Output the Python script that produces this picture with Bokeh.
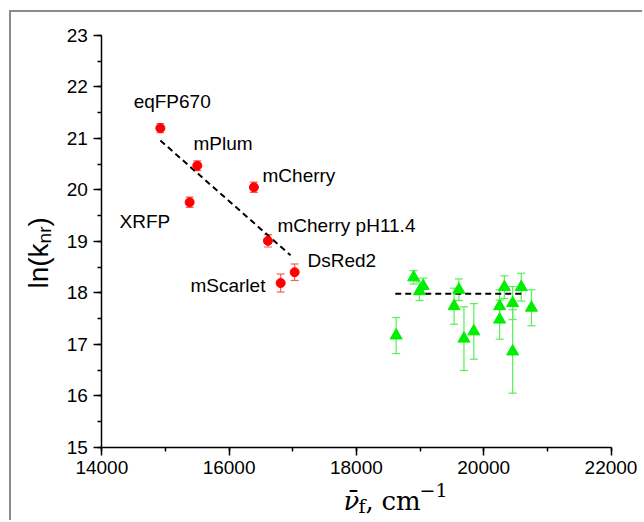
import math
from bokeh.plotting import figure
from bokeh.models import ColumnDataSource, Whisker, Label, Range1d, SingleIntervalTicker, TeeHead
from bokeh.core.properties import value
from bokeh.embed import file_html
from bokeh.resources import INLINE

# ---- data ----
red_names = ["eqFP670", "mPlum", "mCherry", "XRFP", "mCherry pH11.4", "DsRed2", "mScarlet"]
red_x = [14920, 15500, 16390, 15380, 16610, 17030, 16810]
red_y = [21.20, 20.47, 20.05, 19.76, 19.01, 18.40, 18.19]
red_err = [0.09, 0.095, 0.10, 0.10, 0.12, 0.16, 0.175]
label_x = [14500, 15441, 16525, 14278, 16760, 17231, 15393]
label_y = [21.72, 20.90, 20.27, 19.39, 19.30, 18.62, 18.14]

red_fit_x = [14920, 16965]
red_fit_y = [20.96, 18.73]

green_x = [18625, 18900, 19050, 18990, 19610, 19535, 19690, 19845, 20250, 20250,
           20325, 20455, 20455, 20590, 20750]
green_y = [17.17, 18.30, 18.13, 18.03, 18.06, 17.74, 17.11, 17.25, 17.74, 17.48,
           18.11, 17.80, 16.86, 18.11, 17.71]
green_err = [0.35, 0.13, 0.155, 0.18, 0.21, 0.35, 0.62, 0.54, 0.32, 0.38,
             0.22, 0.32, 0.81, 0.27, 0.35]
green_fit_x = [18610, 20655]
green_fit_y = [17.98, 17.98]

x_axis_bounds = (14000, 22000)
y_axis_bounds = (15, 23)
x_ticks_interval = 2000
y_ticks_interval = 1

# ---- geometry (page pixels) ----
CANVAS_LEFT, CANVAS_TOP = 11, 12
W, H = 644 - CANVAS_LEFT, 522 - CANVAS_TOP
AX_LEFT_PX, AX_RIGHT_PX = 101.3, 610.5   # x of 14000 / 22000
AX_TOP_PX, AX_BOT_PX = 35.0, 446.7       # y of 23 / 15
PX_X = (x_axis_bounds[1] - x_axis_bounds[0]) / (AX_RIGHT_PX - AX_LEFT_PX)
PX_Y = (y_axis_bounds[1] - y_axis_bounds[0]) / (AX_BOT_PX - AX_TOP_PX)
x0 = x_axis_bounds[0] - (AX_LEFT_PX - CANVAS_LEFT) * PX_X
x1 = x_axis_bounds[0] + (644 - AX_LEFT_PX) * PX_X
y1 = y_axis_bounds[1] + (AX_TOP_PX - CANVAS_TOP) * PX_Y
y0 = y_axis_bounds[1] - (522 - AX_TOP_PX) * PX_Y


def dx(px):
    return x_axis_bounds[0] + (px - AX_LEFT_PX) * PX_X


def dy(py):
    return y_axis_bounds[1] - (py - AX_TOP_PX) * PX_Y


# ---- figure ----
p = figure(width=W, height=H, output_backend="svg", toolbar_location=None,
           x_range=Range1d(x0, x1), y_range=Range1d(y0, y1),
           min_border=0, min_border_left=0, min_border_right=0,
           min_border_top=0, min_border_bottom=0)
p.styles = {"border-left": "2px solid #8c8c8c", "border-top": "2px solid #8c8c8c",
            "margin-left": f"{CANVAS_LEFT - 2}px", "margin-top": f"{CANVAS_TOP - 2}px"}
p.outline_line_color = None
p.xgrid.visible = False
p.ygrid.visible = False

xa, ya = p.xaxis[0], p.yaxis[0]
xa.fixed_location = y_axis_bounds[0]
xa.bounds = x_axis_bounds
ya.fixed_location = x_axis_bounds[0]
ya.bounds = y_axis_bounds
for ax, tk in ((xa, SingleIntervalTicker(interval=x_ticks_interval, num_minor_ticks=2)),
               (ya, SingleIntervalTicker(interval=y_ticks_interval, num_minor_ticks=2))):
    ax.ticker = tk
    ax.axis_line_width = 1.5
    ax.axis_line_color = "black"
    ax.major_tick_line_width = 1.5
    ax.minor_tick_line_width = 1.5
    ax.major_tick_in = 0
    ax.major_tick_out = 8
    ax.minor_tick_in = 0
    ax.minor_tick_out = 4
    ax.major_label_text_font = "Liberation Sans"
    ax.major_label_text_font_size = "19px"
    ax.major_label_text_color = "black"
    ax.major_label_standoff = 6
    ax.axis_label = None

# fit lines
p.line(red_fit_x, red_fit_y, line_color="black", line_width=2, line_dash="6 4")
p.line(green_fit_x, green_fit_y, line_color="black", line_width=2, line_dash="6 4")

# red points
rsrc = ColumnDataSource(dict(x=red_x, y=red_y,
                             lo=[a - b for a, b in zip(red_y, red_err)],
                             hi=[a + b for a, b in zip(red_y, red_err)]))
p.add_layout(Whisker(source=rsrc, base="x", upper="hi", lower="lo",
                     line_color="#ff5a5a", line_width=1.2,
                     upper_head=TeeHead(size=8, line_color="#ff5a5a", line_width=1.2),
                     lower_head=TeeHead(size=8, line_color="#ff5a5a", line_width=1.2)))
p.scatter("x", "y", source=rsrc, marker="circle", size=9, fill_color="#ff0000", line_color="#ff0000")

# green points
gsrc = ColumnDataSource(dict(x=green_x, y=green_y,
                             lo=[a - b for a, b in zip(green_y, green_err)],
                             hi=[a + b for a, b in zip(green_y, green_err)]))
p.add_layout(Whisker(source=gsrc, base="x", upper="hi", lower="lo",
                     line_color="#55f055", line_width=1.2,
                     upper_head=TeeHead(size=8, line_color="#55f055", line_width=1.2),
                     lower_head=TeeHead(size=8, line_color="#55f055", line_width=1.2)))
p.scatter("x", "y", source=gsrc, marker="triangle", size=12, fill_color="#00ee00", line_color="#00ee00")

# point labels
p.text(x=label_x, y=label_y, text=red_names, text_font=value("Liberation Sans"),
       text_font_size="19px", text_color="black", text_align="left", text_baseline="alphabetic")

# ---- axis titles built from pieces ----
# y title: ln(k_nr), rotated
fs_main, fs_sub = 28, 19
w1 = 1.611 * fs_main
w2 = 0.889 * fs_sub
for txt, off_y, off_x, fs in (("ln(k", 0, 0, fs_main),
                              ("nr", w1, 6, fs_sub),
                              (")", w1 + w2, 0, fs_main)):
    p.add_layout(Label(x=dx(38 + off_x), y=dy(288 - off_y), text=txt, angle=math.pi / 2,
                       text_font="Liberation Sans", text_font_size=f"{fs}px",
                       text_align="left", text_baseline="alphabetic", text_color="black"))

# x title: nu-bar_f, cm^-1
xfs, xsub = 26, 19
pieces = [("\u03bd\u0304", 0, 0, xfs, "italic"),
          ("f", 15, 5, xsub, "normal"),
          (",", 22, 0, xfs, "normal"),
          ("cm", 38, 0, xfs, "normal"),
          ("\u22121", 76, -11, xsub, "normal")]
for txt, ox, oy, fs, st in pieces:
    p.add_layout(Label(x=dx(343 + ox), y=dy(500 + oy), text=txt,
                       text_font="DejaVu Serif", text_font_size=f"{fs}px", text_font_style=st,
                       text_align="left", text_baseline="alphabetic", text_color="black"))

open("out.html", "w").write(file_html(p, INLINE))
